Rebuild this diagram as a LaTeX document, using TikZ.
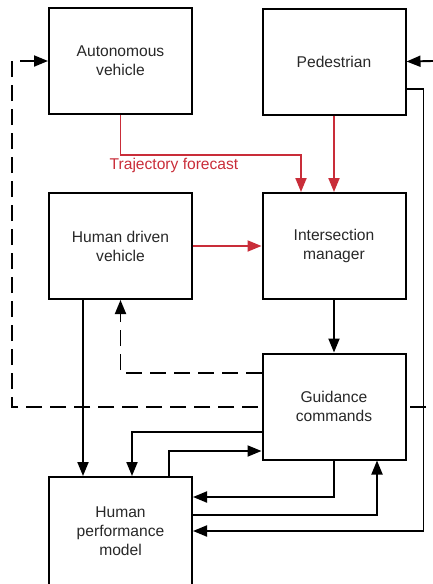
\documentclass[tikz,border=0pt]{standalone}
\usepackage{fontspec}
\setmainfont{Liberation Sans}
\usetikzlibrary{arrows.meta,calc,backgrounds}
\definecolor{fcred}{RGB}{201,45,57}
\definecolor{txt}{RGB}{40,40,40}

\begin{document}
\begin{tikzpicture}[x=1pt,y=-1pt,
  box/.style={draw=black, line width=2pt, fill=white, minimum width=143pt,
    minimum height=106pt, inner sep=0pt, align=center, text=txt,
    font=\fontsize{15.6}{19}\selectfont},
  link/.style={line width=1.9pt, -{Triangle[length=14pt,width=11pt]}},
  redlink/.style={link, draw=fcred},
  dashlink/.style={link, dash pattern=on 16pt off 8pt},
]
\useasboundingbox (0,0) rectangle (433,584);

% blocks
\node[box] (av)  at (120.5,61)  {Autonomous\\vehicle};
\node[box] (ped) at (334,61.5)  {Pedestrian};
\node[box] (hdv) at (120.5,246) {Human driven\\vehicle};
\node[box] (im)  at (334,246)   {Intersection\\manager};
\node[box] (gc)  at (334,406.5) {Guidance\\commands};
\node[box, minimum height=108pt] (hp) at (120.5,531) {Human\\performance\\model};

% free ends of the outer feedback loop
\coordinate (fbR) at (433,407);
\coordinate (fbL) at (12,407);
\coordinate (pedIn) at (433,61);

\begin{scope}[on background layer]
  \draw[dashlink, dash phase=17pt] (fbR) -- (fbL) |- (av.west);
\end{scope}
\draw[link] (pedIn) -- (ped.east);

% forecasts into the intersection manager
\draw[redlink] (av.south) -- ++(0,40) -| ($(im.north)+(-33,0)$);
\node[text=fcred, font=\fontsize{15.6}{19}\selectfont] (tf) at (174,165) {Trajectory forecast};
\draw[redlink] (ped.south) -- (im.north);
\draw[redlink] (hdv.east) -- (im.west);

% commands
\draw[link] (im.south) -- (gc.north);
\draw[dashlink] ($(gc.west)+(0,-33.5)$) -| (hdv.south);
\draw[link] ($(hdv.south)+(-37.5,0)$) -- ($(hp.north)+(-37.5,0)$);
\draw[link] ($(gc.west)+(0,25.5)$) -| ($(hp.north)+(11.5,0)$);
\draw[link] ($(hp.north)+(48.5,0)$) |- ($(gc.west)+(0,44.5)$);
\draw[link] (gc.south) |- ($(hp.east)+(0,-34)$);
\draw[link] ($(hp.east)+(0,-16)$) -| ($(gc.south)+(43,0)$);
\draw[link] ($(ped.east)+(0,27.5)$) -- ++(17,0) |- (hp.east);
\end{tikzpicture}
\end{document}
